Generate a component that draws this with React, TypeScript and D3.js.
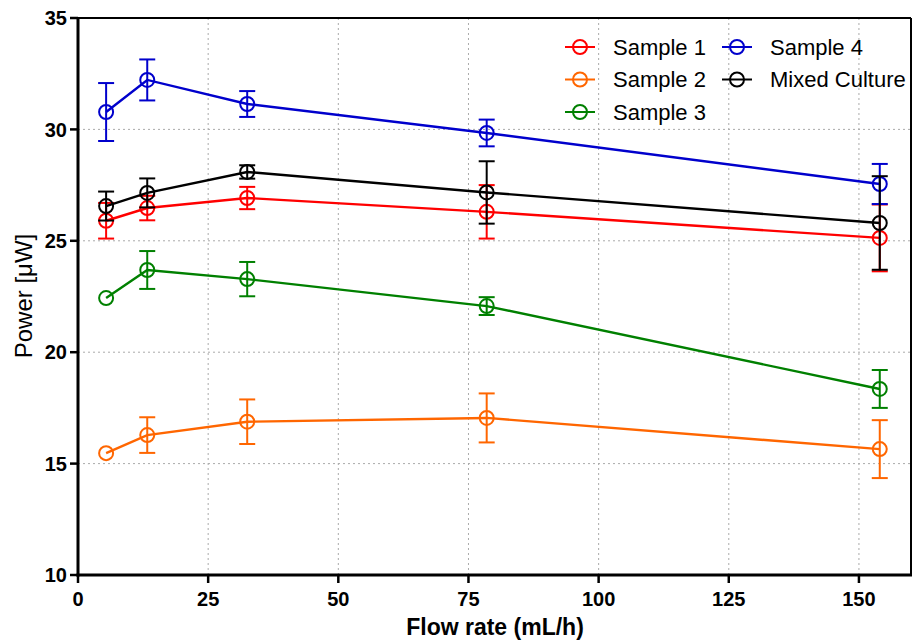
import React from "react";
import * as d3 from "d3";

const flowRates = [5.4, 13.3, 32.5, 78.5, 154];
const seriesNames = ["Sample 1", "Sample 2", "Sample 3", "Sample 4", "Mixed Culture"];
const seriesColors = ["#ff0000", "#ff6600", "#008000", "#0000cc", "#000000"];
const sample1 = [25.9, 26.47, 26.92, 26.3, 25.13];
const sample1Err = [0.8, 0.55, 0.5, 1.2, 1.5];
const sample2 = [15.47, 16.28, 16.88, 17.05, 15.65];
const sample2Err = [0, 0.8, 1.0, 1.1, 1.3];
const sample3 = [22.43, 23.69, 23.28, 22.07, 18.35];
const sample3Err = [0, 0.85, 0.77, 0.4, 0.85];
const sample4 = [30.78, 32.22, 31.14, 29.84, 27.55];
const sample4Err = [1.3, 0.92, 0.58, 0.6, 0.9];
const mixed = [26.56, 27.15, 28.09, 27.17, 25.8];
const mixedErr = [0.65, 0.65, 0.3, 1.4, 2.1];
const xTicks = [0, 25, 50, 75, 100, 125, 150];
const yTicks = [10, 15, 20, 25, 30, 35];

const values = [sample1, sample2, sample3, sample4, mixed];
const errors = [sample1Err, sample2Err, sample3Err, sample4Err, mixedErr];

export default function App() {
  const W = 913, H = 642;
  const left = 78, right = 911, top = 18, bottom = 575;
  const x = d3.scaleLinear().domain([0, 160]).range([left, right]);
  const y = d3.scaleLinear().domain([10, 35]).range([bottom, top]);
  const line = d3.line<number>().x((_, i) => x(flowRates[i])).y((d) => y(d));
  const font = "Arial, 'Liberation Sans', sans-serif";
  const r = 7, cap = 8;
  const order = [1, 2, 0, 3, 4];
  return (
    <svg width={W} height={H} style={{ position: "absolute", left: 0, top: 0, background: "#fff" }} fontFamily={font}>
      {xTicks.filter((t) => t > 0).map((t) => (
        <line key={"gx" + t} x1={x(t)} x2={x(t)} y1={top} y2={bottom} stroke="#aaa" strokeWidth={1} strokeDasharray="2,3" />
      ))}
      {yTicks.filter((t) => t > 10 && t < 35).map((t) => (
        <line key={"gy" + t} x1={left} x2={right} y1={y(t)} y2={y(t)} stroke="#aaa" strokeWidth={1} strokeDasharray="2,3" />
      ))}
      {order.map((si) => {
        const c = seriesColors[si];
        const v = values[si];
        const e = errors[si];
        return (
          <g key={si}>
            <path d={line(v) || ""} fill="none" stroke={c} strokeWidth={2.4} />
            {v.map((d, i) => {
              const cx = x(flowRates[i]);
              const y1 = y(d + e[i]);
              const y2 = y(d - e[i]);
              return (
                <g key={i}>
                  {e[i] > 0 && (
                    <g>
                      <line x1={cx} x2={cx} y1={y1} y2={y2} stroke={c} strokeWidth={2} />
                      <line x1={cx - cap} x2={cx + cap} y1={y1} y2={y1} stroke={c} strokeWidth={2} />
                      <line x1={cx - cap} x2={cx + cap} y1={y2} y2={y2} stroke={c} strokeWidth={2} />
                    </g>
                  )}
                  <circle cx={cx} cy={y(d)} r={r} fill="none" stroke={c} strokeWidth={2} />
                </g>
              );
            })}
          </g>
        );
      })}
      <line x1={left} x2={right} y1={top} y2={top} stroke="#000" strokeWidth={2} />
      <line x1={right} x2={right} y1={top} y2={bottom} stroke="#000" strokeWidth={2} />
      <line x1={left} x2={left} y1={top - 1} y2={bottom + 1.5} stroke="#000" strokeWidth={3} />
      <line x1={left - 1.5} x2={right + 1} y1={bottom} y2={bottom} stroke="#000" strokeWidth={3} />
      {yTicks.map((t) => (
        <g key={"yt" + t}>
          <line x1={left - 8} x2={left} y1={y(t)} y2={y(t)} stroke="#000" strokeWidth={2.5} />
          <text x={left - 11} y={y(t)} dy="0.36em" textAnchor="end" fontSize={20} fontWeight="bold">{t}</text>
        </g>
      ))}
      {xTicks.map((t) => (
        <g key={"xt" + t}>
          <line x1={x(t)} x2={x(t)} y1={bottom} y2={bottom + 8} stroke="#000" strokeWidth={2.5} />
          <text x={x(t)} y={606} textAnchor="middle" fontSize={20} fontWeight="bold">{t}</text>
        </g>
      ))}
      <text x={495} y={635} textAnchor="middle" fontSize={23} fontWeight="bold">Flow rate (mL/h)</text>
      <text transform={`translate(32, 296) rotate(-90)`} textAnchor="middle" fontSize={24}>Power [μW]</text>
      {seriesNames.map((n, i) => {
        const col = i < 3 ? 0 : 1;
        const row = i < 3 ? i : i - 3;
        const lx = col === 0 ? 565 : 722;
        const ly = 47 + row * 32.5;
        const c = seriesColors[i];
        return (
          <g key={"lg" + i}>
            <line x1={lx} x2={lx + 30} y1={ly} y2={ly} stroke={c} strokeWidth={2} />
            <circle cx={lx + 15} cy={ly} r={r} fill="none" stroke={c} strokeWidth={2} />
            <text x={lx + 48} y={ly} dy="0.36em" fontSize={22}>{n}</text>
          </g>
        );
      })}
    </svg>
  );
}
